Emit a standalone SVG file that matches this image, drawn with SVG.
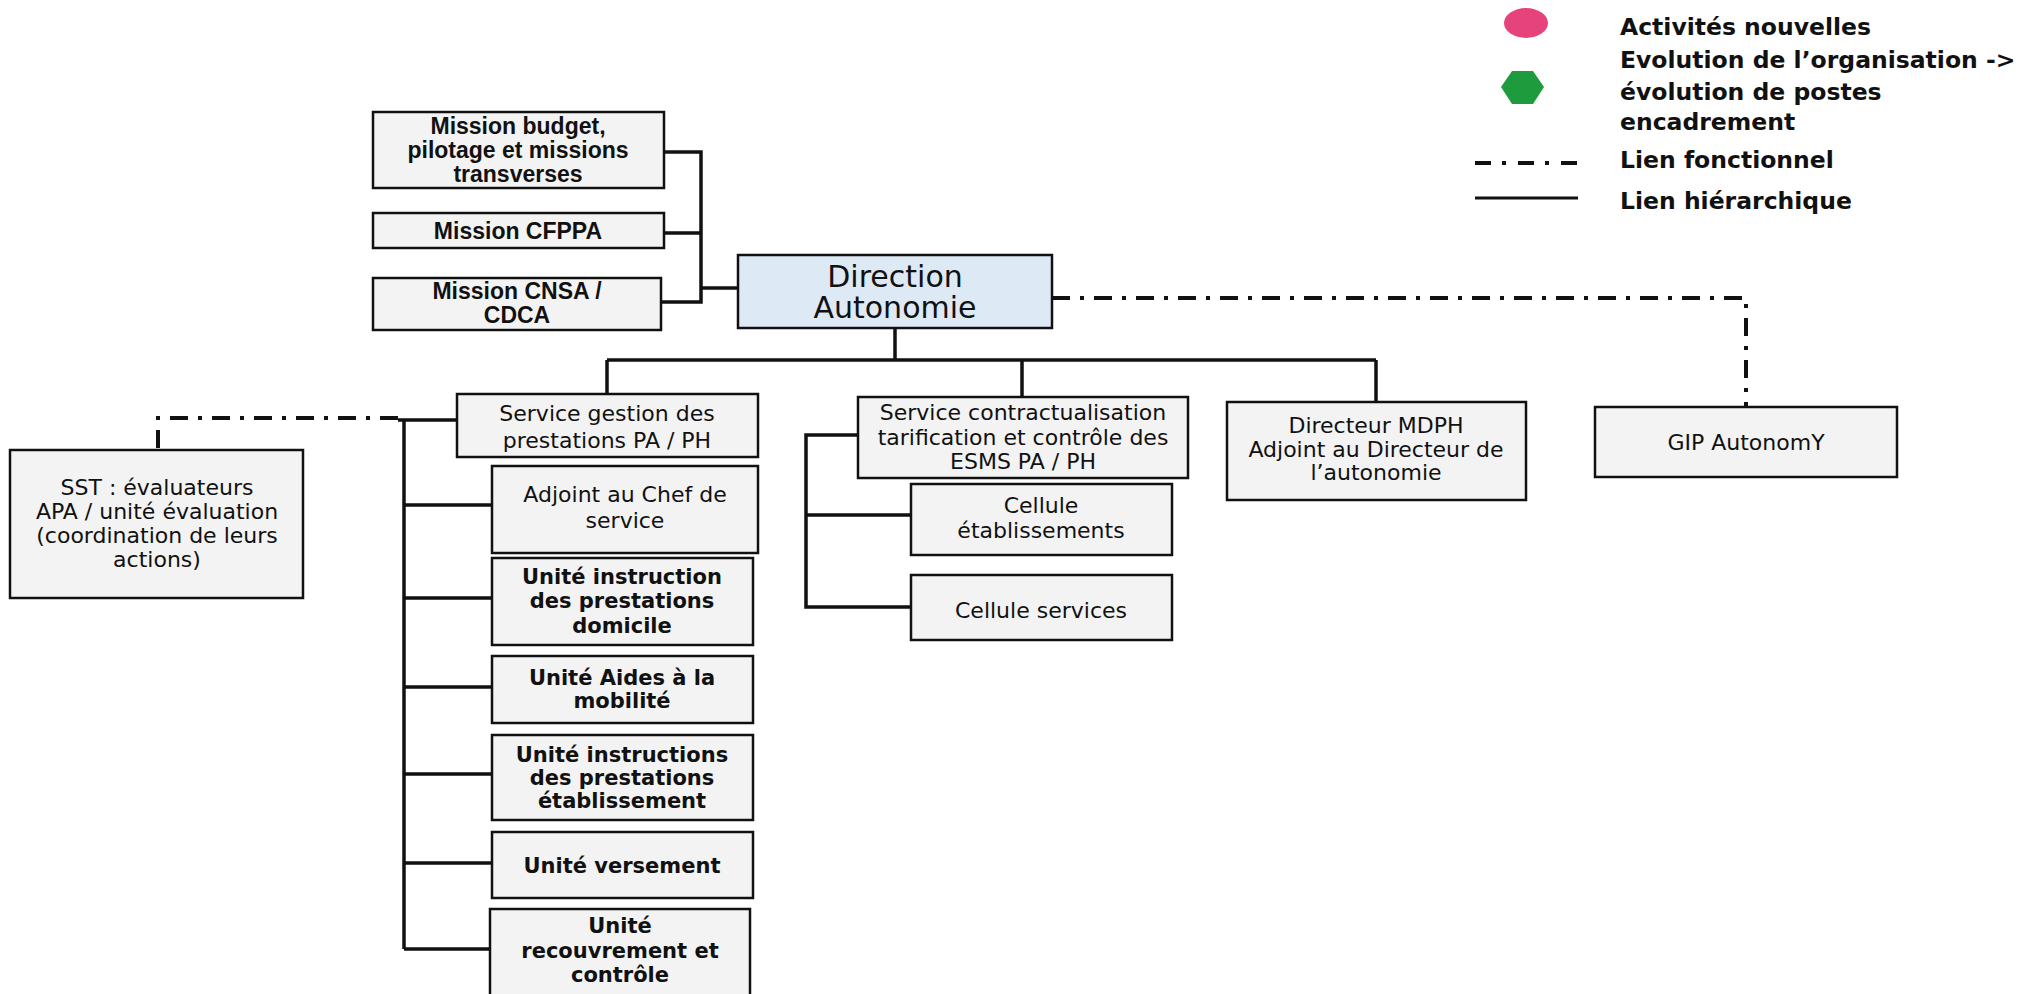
<svg xmlns="http://www.w3.org/2000/svg" width="2037" height="994" viewBox="0 0 2037 994">
<style>
.box{fill:#f3f3f3;stroke:#111;stroke-width:2.5}
.dir{fill:#dde9f5}
.t{font-family:"DejaVu Sans","Liberation Sans",sans-serif;font-size:22px;text-anchor:middle;fill:#111}
.b{font-weight:bold;font-size:21px}
.m{font-family:"Liberation Sans",Arial,sans-serif;font-weight:bold;font-size:23px}
.big{font-size:30px}
.lg{font-family:"DejaVu Sans","Liberation Sans",sans-serif;font-weight:bold;font-size:23.5px;fill:#111}
.h{stroke:#111;stroke-width:3.5;fill:none}
.f{stroke:#111;stroke-width:4;stroke-dasharray:18 10 4 10;fill:none}
</style>
<rect width="2037" height="994" fill="#fff"/>

<g id="legend">
  <ellipse cx="1526" cy="23" rx="22" ry="15" fill="#e6437d"/>
  <polygon points="1501,87 1512,71 1533,71 1544,87 1533,104 1512,104" fill="#1e9b3c"/>
  <line x1="1475" y1="163" x2="1579" y2="163" stroke="#111" stroke-width="4" stroke-dasharray="16 11 4 12"/>
  <line x1="1475" y1="198" x2="1578" y2="198" stroke="#111" stroke-width="3"/>
  <text class="lg" x="1620" y="35">Activités nouvelles</text>
  <text class="lg" x="1620" y="68">Evolution de l’organisation -&gt;</text>
  <text class="lg" x="1620" y="100">évolution de postes</text>
  <text class="lg" x="1620" y="130">encadrement</text>
  <text class="lg" x="1620" y="168">Lien fonctionnel</text>
  <text class="lg" x="1620" y="209">Lien hiérarchique</text>
</g>

<g id="connectors">
  <path class="h" d="M664,152 H701 V302 H661 M664,233 H701 M701,288 H738"/>
  <path class="h" d="M895,328 V360 M607,360 H1376 M607,360 V394 M1022,360 V397 M1376,360 V402"/>
  <path class="h" d="M398,420 H457 M404,420 V949 M404,505 H492 M404,598 H492 M404,687 H492 M404,774 H492 M404,863 H492 M404,949 H490"/>
  <path class="h" d="M858,435 H806 V607 H911 M806,515 H911"/>
  <path class="f" d="M1052,298 H1746 V407"/>
  <path class="f" d="M398,418 H158 V450"/>
</g>

<g id="mission-budget">
  <rect class="box" x="373" y="112" width="291" height="76"/>
  <text class="t m" x="518" y="134">Mission budget,</text>
  <text class="t m" x="518" y="158">pilotage et missions</text>
  <text class="t m" x="518" y="182">transverses</text>
</g>
<g id="mission-cfppa">
  <rect class="box" x="373" y="213" width="291" height="35"/>
  <text class="t m" x="518" y="239">Mission CFPPA</text>
</g>
<g id="mission-cnsa">
  <rect class="box" x="373" y="278" width="288" height="52"/>
  <text class="t m" x="517" y="299">Mission CNSA /</text>
  <text class="t m" x="517" y="323">CDCA</text>
</g>
<g id="direction">
  <rect class="box dir" x="738" y="255" width="314" height="73"/>
  <text class="t big" x="895" y="287">Direction</text>
  <text class="t big" x="895" y="318">Autonomie</text>
</g>
<g id="sst">
  <rect class="box" x="10" y="450" width="293" height="148"/>
  <text class="t" x="157" y="495">SST : évaluateurs</text>
  <text class="t" x="157" y="519">APA / unité évaluation</text>
  <text class="t" x="157" y="543">(coordination de leurs</text>
  <text class="t" x="157" y="567">actions)</text>
</g>
<g id="service-gestion">
  <rect class="box" x="457" y="394" width="301" height="63"/>
  <text class="t" x="607" y="421">Service gestion des</text>
  <text class="t" x="607" y="448">prestations PA / PH</text>
</g>
<g id="adjoint">
  <rect class="box" x="492" y="466" width="266" height="87"/>
  <text class="t" x="625" y="502">Adjoint au Chef de</text>
  <text class="t" x="625" y="528">service</text>
</g>
<g id="unite-domicile">
  <rect class="box" x="492" y="558" width="261" height="87"/>
  <text class="t b" x="622" y="584">Unité instruction</text>
  <text class="t b" x="622" y="608">des prestations</text>
  <text class="t b" x="622" y="633">domicile</text>
</g>
<g id="unite-mobilite">
  <rect class="box" x="492" y="656" width="261" height="67"/>
  <text class="t b" x="622" y="685">Unité Aides à la</text>
  <text class="t b" x="622" y="708">mobilité</text>
</g>
<g id="unite-etablissement">
  <rect class="box" x="492" y="735" width="261" height="85"/>
  <text class="t b" x="622" y="762">Unité instructions</text>
  <text class="t b" x="622" y="785">des prestations</text>
  <text class="t b" x="622" y="808">établissement</text>
</g>
<g id="unite-versement">
  <rect class="box" x="492" y="832" width="261" height="66"/>
  <text class="t b" x="622" y="873">Unité versement</text>
</g>
<g id="unite-recouvrement">
  <rect class="box" x="490" y="909" width="260" height="90"/>
  <text class="t b" x="620" y="933">Unité</text>
  <text class="t b" x="620" y="958">recouvrement et</text>
  <text class="t b" x="620" y="982">contrôle</text>
</g>
<g id="service-contractualisation">
  <rect class="box" x="858" y="397" width="330" height="81"/>
  <text class="t" x="1023" y="420">Service contractualisation</text>
  <text class="t" x="1023" y="445">tarification et contrôle des</text>
  <text class="t" x="1023" y="469">ESMS PA / PH</text>
</g>
<g id="cellule-etablissements">
  <rect class="box" x="911" y="484" width="261" height="71"/>
  <text class="t" x="1041" y="513">Cellule</text>
  <text class="t" x="1041" y="538">établissements</text>
</g>
<g id="cellule-services">
  <rect class="box" x="911" y="575" width="261" height="65"/>
  <text class="t" x="1041" y="618">Cellule services</text>
</g>
<g id="directeur-mdph">
  <rect class="box" x="1227" y="402" width="299" height="98"/>
  <text class="t" x="1376" y="433">Directeur MDPH</text>
  <text class="t" x="1376" y="457">Adjoint au Directeur de</text>
  <text class="t" x="1376" y="480">l’autonomie</text>
</g>
<g id="gip">
  <rect class="box" x="1595" y="407" width="302" height="70"/>
  <text class="t" x="1746" y="450">GIP AutonomY</text>
</g>
</svg>
